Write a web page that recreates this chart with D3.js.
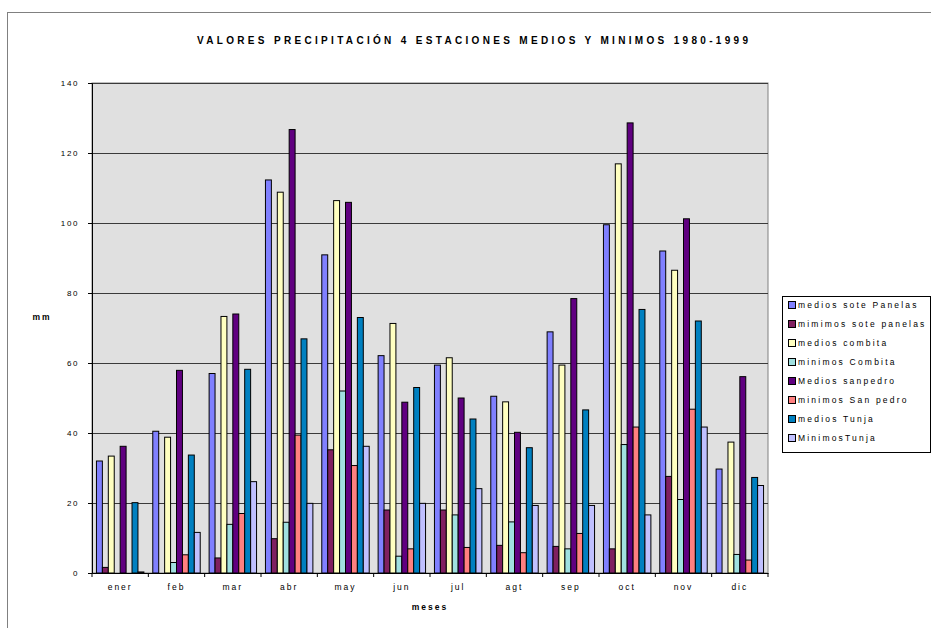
<!DOCTYPE html>
<html>
<head>
<meta charset="utf-8">
<script src="https://cdn.jsdelivr.net/npm/d3@7/dist/d3.min.js"></script>
<style>
  html, body { margin: 0; padding: 0; background: #ffffff; }
  svg { display: block; font-family: "Liberation Sans", Arial, sans-serif; }
</style>
</head>
<body>
<svg id="chart" width="931" height="628"></svg>
<script>
// Monthly precipitation (mm), 1980-1999, four stations: means and minimums
const categories = ["ener", "feb", "mar", "abr", "may", "jun", "jul", "agt", "sep", "oct", "nov", "dic"];
const mediosSotePanelas  = [32.0, 40.5, 57.0, 112.3, 90.9, 62.1, 59.4, 50.5, 68.9, 99.5, 92.0, 29.7];
const minimosSotePanelas = [1.6, 0, 4.3, 9.8, 35.2, 18.0, 18.0, 7.9, 7.6, 6.9, 27.6, 0];
const mediosCombita      = [33.4, 38.8, 73.3, 108.8, 106.4, 71.3, 61.5, 48.9, 59.4, 116.9, 86.5, 37.4];
const minimosCombita     = [0, 3.0, 13.9, 14.5, 52.0, 4.8, 16.6, 14.6, 6.9, 36.7, 21.0, 5.3];
const mediosSanpedro     = [36.2, 57.9, 74.0, 126.7, 105.9, 48.8, 50.0, 40.2, 78.4, 128.6, 101.2, 56.1];
const minimosSanPedro    = [0, 5.2, 17.0, 39.4, 30.7, 6.9, 7.3, 5.8, 11.3, 41.7, 46.8, 3.7];
const mediosTunja        = [20.1, 33.7, 58.2, 66.9, 73.0, 53.0, 44.0, 35.8, 46.6, 75.3, 72.0, 27.3];
const minimosTunja       = [0.3, 11.6, 26.1, 19.9, 36.2, 19.9, 24.1, 19.3, 19.3, 16.6, 41.7, 25.0];

const seriesNames = ["medios sote Panelas", "mimimos sote panelas", "medios combita", "minimos Combita",
                     "Medios sanpedro", "minimos San pedro", "medios Tunja", "MinimosTunja"];
const seriesValues = [mediosSotePanelas, minimosSotePanelas, mediosCombita, minimosCombita,
                      mediosSanpedro, minimosSanPedro, mediosTunja, minimosTunja];
const seriesColors = ["#8080FF", "#802060", "#FFFFC0", "#A0E0E0", "#600080", "#FF8080", "#0080C0", "#C0C0FF"];
const yTicks = [0, 20, 40, 60, 80, 100, 120, 140];

const titleText = "VALORES PRECIPITACIÓN 4 ESTACIONES MEDIOS Y MINIMOS 1980-1999";
const xTitle = "meses";
const yTitle = "mm";

const svg = d3.select("#chart");

// chart frame
svg.append("rect")
  .attr("x", 7.5).attr("y", 12.5).attr("width", 940).attr("height", 640)
  .attr("fill", "#ffffff").attr("stroke", "#808080");

const plot = { left: 92, right: 768, top: 83, bottom: 573 };

const x = d3.scaleBand().domain(categories).range([plot.left, plot.right]).paddingInner(0).paddingOuter(0);
const barW = x.bandwidth() / 9.5;
const xs = d3.scaleBand().domain(d3.range(seriesNames.length))
  .range([0.75 * barW, x.bandwidth() - 0.75 * barW]).padding(0);
const y = d3.scaleLinear().domain([0, 140]).range([plot.bottom, plot.top]);

// plot background
svg.append("rect")
  .attr("x", plot.left).attr("y", plot.top)
  .attr("width", plot.right - plot.left).attr("height", plot.bottom - plot.top)
  .attr("fill", "#E0E0E0").attr("stroke", "#808080");

// gridlines
svg.append("g")
  .selectAll("line")
  .data(yTicks.filter(d => d > 0))
  .join("line")
  .attr("x1", plot.left).attr("x2", plot.right)
  .attr("y1", d => Math.round(y(d)) + 0.5).attr("y2", d => Math.round(y(d)) + 0.5)
  .attr("stroke", "#3a3a3a").attr("stroke-width", 1);

// bars
const groups = svg.append("g")
  .selectAll("g")
  .data(seriesValues)
  .join("g")
  .attr("fill", (d, i) => seriesColors[i]);

groups.selectAll("rect")
  .data((vals, si) => vals.map((v, ci) => ({ v, ci, si })))
  .join("rect")
  .filter(d => d.v > 0)
  .attr("x", d => x(categories[d.ci]) + xs(d.si))
  .attr("y", d => y(d.v))
  .attr("width", xs.bandwidth())
  .attr("height", d => y(0) - y(d.v))
  .attr("stroke", "#000000")
  .attr("stroke-width", 1);

// y axis
const yAxis = svg.append("g")
  .attr("transform", `translate(${plot.left},0)`)
  .call(d3.axisLeft(y).tickValues(yTicks).tickSize(4).tickPadding(9));
yAxis.select(".domain").attr("stroke", "#000");
yAxis.selectAll(".tick line").attr("stroke", "#000");
yAxis.selectAll(".tick text")
  .attr("font-size", 8).attr("fill", "#000")
  .attr("font-family", "'Liberation Sans', Arial, sans-serif")
  .style("letter-spacing", "1.6px");

// x axis: ticks at category boundaries, labels centered
const xAxis = svg.append("g")
  .attr("transform", `translate(0,${plot.bottom})`)
  .call(d3.axisBottom(x).tickSize(0).tickPadding(11));
xAxis.select(".domain").attr("stroke", "#000");
xAxis.selectAll(".tick text")
  .attr("font-size", 8.5).attr("fill", "#000")
  .attr("font-family", "'Liberation Sans', Arial, sans-serif")
  .style("letter-spacing", "2px");
xAxis.selectAll(".boundary")
  .data(categories.map(c => x(c)).concat([plot.right]))
  .join("line")
  .attr("class", "boundary")
  .attr("x1", d => d).attr("x2", d => d)
  .attr("y1", 0).attr("y2", 4)
  .attr("stroke", "#000");

// title
svg.append("text")
  .attr("x", 197).attr("y", 44)
  .attr("font-size", 10).attr("font-weight", "bold")
  .attr("textLength", 551).attr("lengthAdjust", "spacing")
  .text(titleText);

// axis titles
svg.append("text")
  .attr("x", (plot.left + plot.right) / 2).attr("y", 610)
  .attr("text-anchor", "middle")
  .attr("font-size", 8.5).attr("font-weight", "bold")
  .style("letter-spacing", "2px")
  .text(xTitle);

svg.append("text")
  .attr("x", 42).attr("y", 320)
  .attr("text-anchor", "middle")
  .attr("font-size", 8.5).attr("font-weight", "bold")
  .style("letter-spacing", "2px")
  .text(yTitle);

// legend
const legend = svg.append("g");
legend.append("rect")
  .attr("x", 782.5).attr("y", 296.5).attr("width", 148).attr("height", 156)
  .attr("fill", "#ffffff").attr("stroke", "#000");

const rowY = d3.scalePoint().domain(d3.range(seriesNames.length)).range([305, 438]);
const items = legend.selectAll("g.item")
  .data(seriesNames)
  .join("g")
  .attr("class", "item")
  .attr("transform", (d, i) => `translate(788,${rowY(i)})`);
items.append("rect")
  .attr("x", 0.5).attr("y", -3.5).attr("width", 7).attr("height", 7)
  .attr("fill", (d, i) => seriesColors[i]).attr("stroke", "#000");
items.append("text")
  .attr("x", 10).attr("y", 3)
  .attr("font-size", 8.5)
  .style("letter-spacing", "2.2px")
  .text(d => d);
</script>
</body>
</html>
